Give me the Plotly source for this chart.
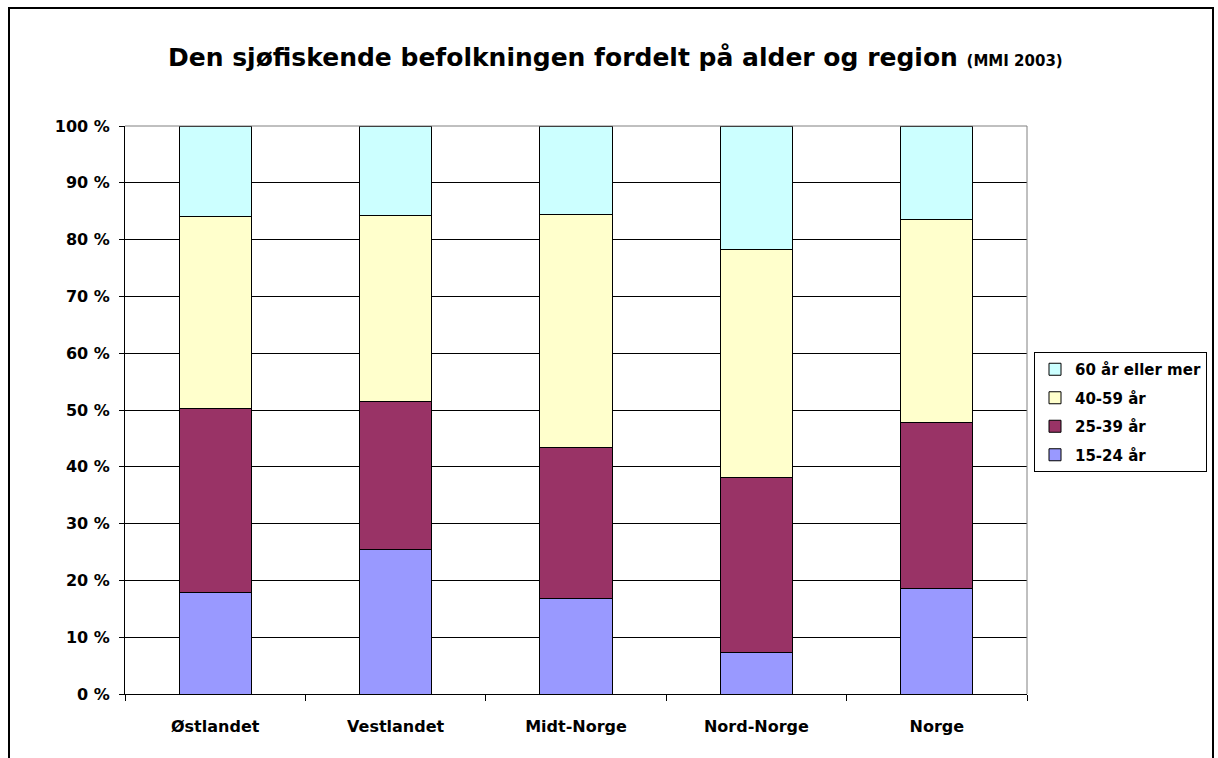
import plotly.graph_objects as go

regions = ["Østlandet", "Vestlandet", "Midt-Norge", "Nord-Norge", "Norge"]
series_names = ["15-24 år", "25-39 år", "40-59 år", "60 år eller mer"]
v_15_24 = [17.8, 25.4, 16.8, 7.3, 18.6]
v_25_39 = [32.4, 26.1, 26.6, 30.8, 29.2]
v_40_59 = [33.9, 32.8, 41.0, 40.1, 35.7]
v_60 = [15.9, 15.7, 15.6, 21.8, 16.5]
colors = ["#9999FF", "#993366", "#FFFFCC", "#CCFFFF"]
y_ticks = [0, 10, 20, 30, 40, 50, 60, 70, 80, 90, 100]
y_tick_labels = [f"{t} %" for t in y_ticks]

W, H = 1218, 758
L, R, T, B = 125, 1027, 126, 694

font = "DejaVu Sans, Arial, sans-serif"

fig = go.Figure()
for i, (name, vals, col) in enumerate(zip(series_names, [v_15_24, v_25_39, v_40_59, v_60], colors)):
    fig.add_trace(go.Bar(
        x=regions, y=vals, name=name, legendgroup=name, legendrank=100 - i,
        marker=dict(color=col, line=dict(color="black", width=1)),
    ))


def px_x(p):
    return (p - L) / (R - L)


def px_y(p):
    return (B - p) / (B - T)


fig.update_layout(
    width=W, height=H,
    barmode="stack", bargap=0.6,
    paper_bgcolor="white", plot_bgcolor="white",
    margin=dict(l=L, r=W - R, t=T, b=H - B, pad=0, autoexpand=False),
    font=dict(family=font, size=16, color="black"),
    showlegend=True,
    legend=dict(
        traceorder="grouped",
        x=px_x(1207), y=px_y(352), xanchor="right", yanchor="top",
        bordercolor="black", borderwidth=1,
        font=dict(family=font, size=15, color="black", weight="bold"),
        itemwidth=30, tracegroupgap=6,
    ),
    annotations=[dict(
        text="<b>Den sjøfiskende befolkningen fordelt på alder og region </b><b><span style='font-size:15px'>(MMI 2003)</span></b>",
        xref="paper", yref="paper", x=px_x(615), y=px_y(58),
        xanchor="center", yanchor="middle", showarrow=False,
        font=dict(family=font, size=25, color="black"),
    )],
    shapes=[dict(
        type="rect", xref="paper", yref="paper",
        x0=px_x(9), x1=px_x(1213), y0=px_y(800), y1=px_y(8),
        line=dict(color="black", width=2), fillcolor="rgba(0,0,0,0)", layer="below",
    )],
)
fig.update_xaxes(
    type="category", tickson="boundaries", ticks="outside", ticklen=6,
    tickcolor="black", showline=True, linecolor="black", linewidth=1,
    mirror=False, showgrid=False,
    tickfont=dict(family=font, size=16, color="black", weight="bold"),
    ticklabelstandoff=18,
)
fig.update_yaxes(
    range=[0, 100], tickvals=y_ticks, ticktext=y_tick_labels,
    ticks="outside", ticklen=5, tickcolor="black",
    showline=True, linecolor="black", linewidth=1,
    showgrid=True, gridcolor="black", gridwidth=1, zeroline=False,
    tickfont=dict(family=font, size=16, color="black", weight="bold"),
    ticklabelstandoff=6,
)
fig.add_shape(type="line", xref="paper", yref="paper", x0=0, x1=1, y0=1, y1=1,
              line=dict(color="#808080", width=1))
fig.add_shape(type="line", xref="paper", yref="paper", x0=1, x1=1, y0=0, y1=1,
              line=dict(color="#808080", width=1))

fig.write_html(
    "out.html",
    config={"displayModeBar": False},
    post_script="document.body.style.margin='0';document.body.style.overflow='hidden';",
)
